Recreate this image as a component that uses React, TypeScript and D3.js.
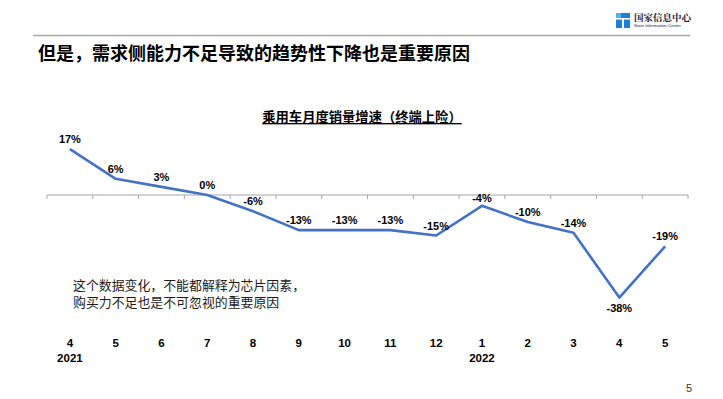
import * as d3 from "d3";
import React from "react";

const months = ["4", "5", "6", "7", "8", "9", "10", "11", "12", "1", "2", "3", "4", "5"];
const years = ["2021", "", "", "", "", "", "", "", "", "2022", "", "", "", ""];
const growth = [17, 6, 3, 0, -6, -13, -13, -13, -15, -4, -10, -14, -38, -19];
const growthLabels = ["17%", "6%", "3%", "0%", "-6%", "-13%", "-13%", "-13%", "-15%", "-4%", "-10%", "-14%", "-38%", "-19%"];

const pageTitle = "但是，需求侧能力不足导致的趋势性下降也是重要原因";
const chartTitle = "乘用车月度销量增速（终端上险）";
const noteLines = ["这个数据变化，不能都解释为芯片因素，", "购买力不足也是不可忽视的重要原因"];

const W = 723;
const H = 399;
const cjk = "'Noto Sans CJK SC', 'Liberation Sans', sans-serif";
const latin = "'Liberation Sans', Arial, 'Noto Sans CJK SC', sans-serif";

export default function App() {
  const idx = months.map((_, i) => String(i));
  const x = d3.scaleBand<string>().domain(idx).range([47, 688]);
  const y = d3.scaleLinear().domain([-40, 20]).range([303, 141]);
  const step = x.step();

  const line = d3
    .line<number>()
    .x((_, i) => (x(String(i)) ?? 0) + step / 2)
    .y((d) => y(d));

  const minVal = d3.min(growth) ?? 0;
  const axisY = y(0);
  const tickXs = d3.range(months.length + 1).map((i) => x.range()[0] + i * step);

  return (
    <svg
      width={W}
      height={H}
      viewBox={`0 0 ${W} ${H}`}
      style={{ position: "absolute", left: 0, top: 0, background: "#fff" }}
    >
      {/* header */}
      <line x1={33} x2={690} y1={35.5} y2={35.5} stroke="#a6a6a6" strokeWidth={1.5} />
      <g>
        <rect x={616} y={13} width={14} height={15} fill="#1f7fd0" />
        <rect x={616} y={13} width={5} height={5} fill="#4fb4f0" />
        <rect x={622} y={18} width={2} height={10} fill="#fff" />
        <rect x={616} y={18} width={14} height={1.6} fill="#fff" />
        <text x={634} y={21} fontSize={9.5} fontWeight="bold" fill="#1a1a3a" fontFamily="'Noto Serif CJK SC', 'Noto Sans CJK SC', serif">
          国家信息中心
        </text>
        <text x={634} y={27} fontSize={4.3} fill="#1a1a3a" fontFamily={latin}>
          State Information Center
        </text>
      </g>
      <text x={38} y={60} fontSize={18} fontWeight="bold" fill="#000" fontFamily={cjk}>
        {pageTitle}
      </text>

      {/* chart title */}
      <text
        x={362}
        y={122}
        textAnchor="middle"
        fontSize={13.3}
        fontWeight="bold"
        fill="#000"
        fontFamily={cjk}
        style={{ textDecoration: "underline" }}
      >
        {chartTitle}
      </text>

      {/* axis */}
      <line x1={tickXs[0]} x2={tickXs[tickXs.length - 1]} y1={axisY} y2={axisY} stroke="#a6a6a6" strokeWidth={1} />
      {tickXs.map((tx, i) => (
        <line key={i} x1={tx} x2={tx} y1={axisY} y2={axisY + 4} stroke="#a6a6a6" strokeWidth={1} />
      ))}

      {/* series */}
      <path d={line(growth) ?? ""} fill="none" stroke="#4472c4" strokeWidth={2.6} strokeLinejoin="round" />

      {growth.map((v, i) => {
        const cx = (x(String(i)) ?? 0) + step / 2;
        const below = v === minVal;
        const ly = below ? y(v) + 14 : y(v) - (v === -4 ? 4 : 6);
        return (
          <text
            key={i}
            x={cx}
            y={ly}
            textAnchor="middle"
            fontSize={11}
            fontWeight="bold"
            fill="#000"
            fontFamily={latin}
          >
            {growthLabels[i]}
          </text>
        );
      })}

      {/* category labels */}
      {months.map((m, i) => {
        const cx = (x(String(i)) ?? 0) + step / 2;
        return (
          <g key={i} fontFamily={latin} fontWeight="bold" fontSize={11.5} textAnchor="middle" fill="#000">
            <text x={cx} y={347}>{m}</text>
            {years[i] && <text x={cx} y={362}>{years[i]}</text>}
          </g>
        );
      })}

      {/* note */}
      {noteLines.map((t, i) => (
        <text key={i} x={73} y={289.5 + i * 17.5} fontSize={12.9} fill="#1a1a1a" fontFamily={cjk}>
          {t}
        </text>
      ))}

      <text x={689} y={392} textAnchor="middle" fontSize={11} fill="#333" fontFamily={latin}>
        5
      </text>
    </svg>
  );
}
